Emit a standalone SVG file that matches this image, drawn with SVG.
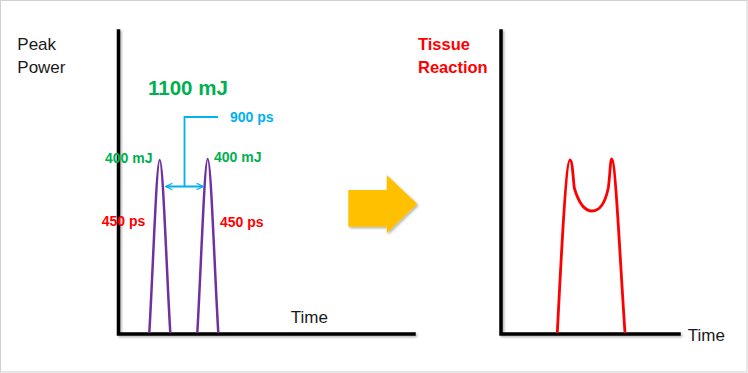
<svg xmlns="http://www.w3.org/2000/svg" width="748" height="373" viewBox="0 0 748 373">
<defs>
<style>
.t{font-family:"Liberation Sans",Arial,sans-serif;}
.b{font-weight:bold;}
.lbl{font-size:17px;fill:#1a1a1a;}
.g{fill:#00b050;}
.r{fill:#ff0000;}
.bl{fill:#00b0f0;}
.axis{stroke:#000;stroke-width:3.5;fill:none;stroke-linecap:square;}
.pulse{stroke:#7030a0;stroke-width:2.5;fill:none;}
.tissue{stroke:#ff0000;stroke-width:2.8;fill:none;stroke-linejoin:round;}
.blue{stroke:#00b0f0;stroke-width:1.8;fill:none;}
</style>
<marker id="ah" viewBox="0 0 10 10" refX="9" refY="5" markerWidth="8" markerHeight="8" orient="auto-start-reverse" markerUnits="userSpaceOnUse">
<path d="M1,1 L9,5 L1,9" fill="none" stroke="#00b0f0" stroke-width="1.6"/>
</marker>
<filter id="sh" x="-20%" y="-20%" width="150%" height="150%">
<feDropShadow dx="1.5" dy="1.5" stdDeviation="1.2" flood-color="#000" flood-opacity="0.3"/>
</filter>
</defs>
<rect x="0.5" y="0.5" width="746.5" height="371.5" fill="#fff" stroke="#d0d0d0" stroke-width="1"/>

<g id="left-chart">
<path class="axis" d="M118.5,31 L118.5,334 L414,334" filter="url(#sh)"/>
<text class="t lbl" x="17.3" y="50">Peak</text>
<text class="t lbl" x="17.3" y="73.3">Power</text>
<text class="t lbl" x="290.7" y="323.3">Time</text>
</g>

<g id="pulse1">
<path class="pulse" d="M149.3,333 C153,270 156.5,160 159.7,160 C163,160 166.5,270 170.3,333"/>
<text class="t b g" x="105" y="163" font-size="14">400 mJ</text>
<text class="t b r" x="101.7" y="226" font-size="14">450 ps</text>
</g>

<g id="pulse2">
<path class="pulse" d="M197.3,333 C201,270 204.5,159 207.7,159 C211,159 214.5,270 218.3,333"/>
<text class="t b g" x="214" y="162" font-size="14">400 mJ</text>
<text class="t b r" x="220" y="227" font-size="14">450 ps</text>
</g>

<g id="total">
<text class="t b g" x="148" y="95" font-size="20.5">1100 mJ</text>
</g>

<g id="gap-label">
<text class="t b bl" x="230" y="121.7" font-size="14">900 ps</text>
</g>

<g id="connectors">
<line class="blue" x1="166" y1="186.5" x2="203" y2="186.5" marker-start="url(#ah)" marker-end="url(#ah)"/>
<path class="blue" d="M184.5,186.5 L184.5,117 L218,117"/>
</g>

<g id="big-arrow">
<path d="M348.3,190 L386.7,190 L386.7,175 L417.3,204 L386.7,233.3 L386.7,226.7 L348.3,226.7 Z" fill="#ffc000" filter="url(#sh)"/>
</g>

<g id="right-chart">
<path class="axis" d="M501,31 L501,334 L679,334" filter="url(#sh)"/>
<text class="t b r" x="418" y="50" font-size="16.5">Tissue</text>
<text class="t b r" x="418" y="73.3" font-size="16.5">Reaction</text>
<text class="t lbl" x="687.7" y="340.7">Time</text>
</g>

<g id="tissue-curve">
<path class="tissue" d="M557.3,333 C561,260 566,160 570,160 C572.5,160 573,178 574.3,188 C579,204 585,211 592,211 C599,211 605,204 608.3,188 C609.8,178 610.3,159 611.7,159 C615.5,159 620,260 625,333"/>
</g>
</svg>
